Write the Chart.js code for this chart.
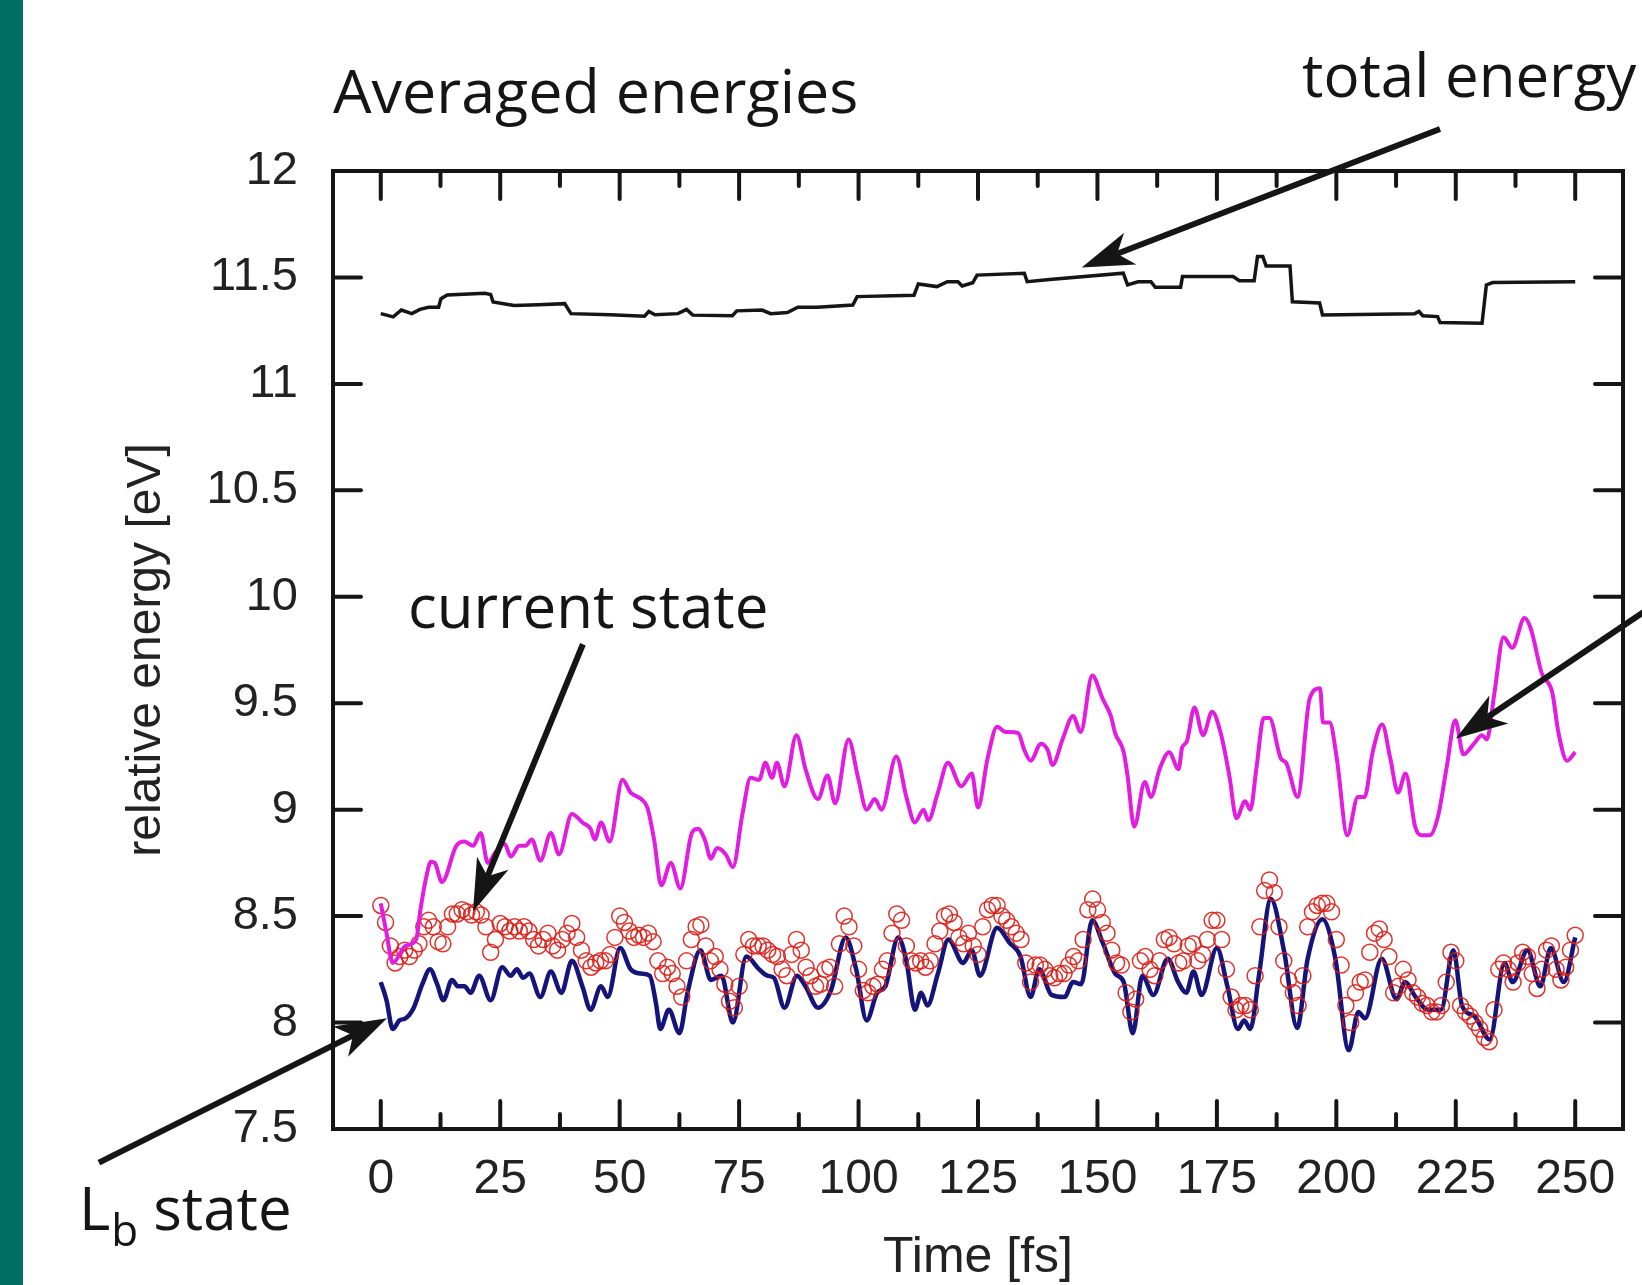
<!DOCTYPE html>
<html>
<head>
<meta charset="utf-8">
<title>Averaged energies</title>
<script src="https://cdn.jsdelivr.net/npm/chart.js@4.4.1/dist/chart.umd.min.js"></script>
<style>
	html, body { margin: 0; padding: 0; background: #fff; }
	#wrap { position: relative; width: 1642px; height: 1285px; overflow: hidden; }
	#bar { position: absolute; left: 0; top: 0; width: 23px; height: 100%; background: #006e64; }
	#chart { position: absolute; left: 0; top: 0; }
</style>
</head>
<body>
<div id="wrap">
	<div id="bar"></div>
	<canvas id="chart" width="1642" height="1285"></canvas>
</div>
<script>
(() => {
	'use strict'

	// Tick labels
	const xTickLabels = ['0', '25', '50', '75', '100', '125', '150', '175', '200', '225', '250'];
	const yTickLabels = ['7.5', '8', '8.5', '9', '9.5', '10', '10.5', '11', '11.5', '12'];

	// Total energy (black, stepwise)
	const totalTime = [0, 2.6, 4.3, 6.5, 8.2, 10, 12.1, 12.6, 13.9, 21.8, 23.0, 23.5, 27.9, 33, 38.5, 39.8, 48, 55.2, 56.1, 57.4,
		62.2, 64, 65.3, 73.6, 74.5, 79.8, 81.6, 85.1, 87.3, 91.3, 98.8, 99.7, 111.6, 112.5, 116.4, 118.6, 120.8, 121.7, 123.9, 124.8,
		134.7, 135.3, 140, 155.4, 156.3, 158.5, 161.2, 162.1, 167.4, 167.8, 178.4, 179.7, 182.8, 183.5, 184.6, 185.3, 190.3, 190.8, 196.5, 197.1,
		216.4, 217.3, 218.1, 221.2, 221.7, 230.5, 231.4, 232.7, 250];
	const totalEnergy = [11.33, 11.315, 11.347, 11.33, 11.35, 11.36, 11.36, 11.40, 11.418, 11.426, 11.42, 11.385, 11.368, 11.372, 11.377, 11.33, 11.325, 11.318, 11.34, 11.325,
		11.33, 11.35, 11.323, 11.32, 11.343, 11.347, 11.33, 11.335, 11.36, 11.36, 11.37, 11.41, 11.416, 11.469, 11.457, 11.48, 11.48, 11.46, 11.475, 11.511,
		11.52, 11.48, 11.49, 11.52, 11.465, 11.48, 11.48, 11.454, 11.454, 11.504, 11.504, 11.485, 11.485, 11.598, 11.598, 11.554, 11.554, 11.386, 11.38, 11.324,
		11.33, 11.34, 11.32, 11.316, 11.288, 11.285, 11.465, 11.476, 11.48];

	// Upper state (magenta)
	const upperTime = [0, 1.2, 2.5, 5.2, 7.4, 8.3, 9.4, 10.5, 11.3, 12.8, 15.8, 17.5, 19.3, 20.9, 22.4, 24, 25.9, 27.2, 29, 30.3,
		31.6, 33.4, 35.6, 37.3, 40, 42.2, 43.9, 44.8, 46.1, 47.9, 50.6, 52.3, 54.5, 55.8, 57.2, 58.7, 60.7, 62.7, 65.1, 66.4,
		67.8, 69.1, 70.4, 72.2, 73.7, 75.7, 77.4, 79.2, 80.5, 81.9, 82.9, 84.5, 87, 88.9, 91.5, 93.5, 95.1, 97.9, 99.9, 101.7,
		103.4, 104.8, 107.9, 110, 111.8, 113.6, 114.6, 116.6, 118.7, 121.5, 123.7, 125, 127, 129, 130.7, 133.4, 134.7, 136, 138.2, 139.6,
		140.6, 142.7, 144.9, 146.5, 148.9, 151.1, 152.8, 153.7, 155.5, 156.3, 157.7, 159.9, 161.2, 163, 165, 167, 167.7, 168.7, 170.3, 172.1,
		174, 175.8, 177.6, 179.1, 180.9, 182, 183.3, 184.8, 186, 188.4, 189.5, 191.9, 194.4, 196.6, 197.2, 198.6, 200.1, 202.3, 204.5, 205.9,
		207.6, 209.6, 211.3, 212.9, 214.5, 216.5, 217.8, 219.6, 221.3, 223.1, 224.9, 226.6, 228.8, 230.5, 231.5, 233.1, 235, 236.8, 239.4, 240.7,
		243, 245.2, 246.5, 248.3, 250];
	const upperEnergy = [8.56, 8.42, 8.28, 8.36, 8.39, 8.53, 8.67, 8.755, 8.75, 8.66, 8.83, 8.85, 8.83, 8.89, 8.75, 8.8, 8.84, 8.78, 8.83, 8.83,
		8.86, 8.76, 8.89, 8.79, 8.98, 8.94, 8.91, 8.86, 8.94, 8.85, 9.14, 9.08, 9.05, 9.01, 8.86, 8.645, 8.75, 8.63, 8.89, 8.91,
		8.86, 8.77, 8.82, 8.79, 8.73, 8.98, 9.15, 9.14, 9.22, 9.15, 9.22, 9.11, 9.35, 9.19, 9.05, 9.16, 9.03, 9.33, 9.15, 9.0,
		9.05, 9.0, 9.25, 9.06, 8.94, 9.0, 8.95, 9.08, 9.22, 9.11, 9.17, 9.01, 9.24, 9.39, 9.365, 9.36, 9.28, 9.23, 9.31, 9.28,
		9.21, 9.33, 9.44, 9.365, 9.63, 9.52, 9.44, 9.36, 9.27, 9.16, 8.92, 9.13, 9.06, 9.19, 9.27, 9.19, 9.29, 9.32, 9.48, 9.35,
		9.46, 9.36, 9.16, 8.96, 9.04, 9.0, 9.2, 9.43, 9.43, 9.24, 9.22, 9.06, 9.52, 9.57, 9.41, 9.41, 9.24, 8.88, 9.06, 9.06,
		9.27, 9.4, 9.24, 9.08, 9.17, 8.92, 8.88, 8.88, 8.97, 9.2, 9.42, 9.26, 9.31, 9.35, 9.33, 9.55, 9.81, 9.76, 9.9, 9.85,
		9.64, 9.55, 9.36, 9.23, 9.27];

	// Current state (red circles), one value per fs from 0 to 250
	const currentEnergy = [
		8.55, 8.47, 8.36, 8.28, 8.31, 8.34, 8.31, 8.34, 8.37, 8.45,
		8.48, 8.45, 8.38, 8.37, 8.45, 8.51, 8.51, 8.53, 8.52, 8.505,
		8.52, 8.505, 8.45, 8.33, 8.39, 8.465, 8.45, 8.43, 8.45, 8.43,
		8.45, 8.43, 8.39, 8.36, 8.39, 8.42, 8.36, 8.34, 8.39, 8.42,
		8.465, 8.40, 8.34, 8.29, 8.26, 8.28, 8.29, 8.29, 8.32, 8.40,
		8.50, 8.47, 8.43, 8.40, 8.41, 8.40, 8.42, 8.38, 8.29, 8.23,
		8.26, 8.23, 8.17, 8.12, 8.29, 8.39, 8.45, 8.46, 8.36, 8.29,
		8.31, 8.25, 8.18, 8.10, 8.07, 8.17, 8.32, 8.39, 8.36, 8.36,
		8.36, 8.34, 8.32, 8.31, 8.25, 8.22, 8.32, 8.39, 8.34, 8.26,
		8.22, 8.17, 8.18, 8.25, 8.26, 8.17, 8.37, 8.50, 8.45, 8.36,
		8.25, 8.15, 8.14, 8.17, 8.18, 8.25, 8.29, 8.42, 8.51, 8.48,
		8.36, 8.29, 8.28, 8.29, 8.26, 8.29, 8.37, 8.43, 8.50, 8.51,
		8.47, 8.40, 8.37, 8.42, 8.36, 8.32, 8.45, 8.53, 8.55, 8.55,
		8.50, 8.48, 8.45, 8.42, 8.39, 8.28, 8.19, 8.27, 8.27, 8.25,
		8.22, 8.21, 8.23, 8.23, 8.27, 8.31, 8.29, 8.39, 8.53, 8.58,
		8.53, 8.47, 8.42, 8.34, 8.28, 8.27, 8.14, 8.05, 8.11, 8.29,
		8.31, 8.25, 8.22, 8.29, 8.39, 8.40, 8.37, 8.28, 8.29, 8.36,
		8.37, 8.29, 8.32, 8.39, 8.48, 8.48, 8.39, 8.25, 8.12, 8.06,
		8.08, 8.08, 8.06, 8.22, 8.45, 8.62, 8.67, 8.61, 8.45, 8.29,
		8.20, 8.14, 8.08, 8.22, 8.45, 8.52, 8.55, 8.56, 8.56, 8.52,
		8.39, 8.27, 8.08, 8.00, 8.14, 8.19, 8.20, 8.33, 8.42, 8.44,
		8.39, 8.31, 8.14, 8.17, 8.25, 8.20, 8.14, 8.12, 8.09, 8.08,
		8.05, 8.05, 8.08, 8.19, 8.33, 8.29, 8.08, 8.05, 8.03, 8.00,
		7.97, 7.93, 7.91, 8.06, 8.25, 8.28, 8.25, 8.19, 8.28, 8.33,
		8.31, 8.23, 8.16, 8.25, 8.34, 8.36, 8.25, 8.20, 8.26, 8.34,
		8.41];
	const currentTime = currentEnergy.map((_, i) => i);

	// Lb state (navy)
	const lbTime = [0, 1.2, 2.5, 3.9, 5.2, 6.9, 8.7, 10.3, 11.8, 13.1, 14.9, 16.2, 17.5, 18.8, 20.6, 23, 25.4, 27.2, 28.5, 29.8,
		31.1, 33.4, 35.6, 37.8, 40, 42.2, 43.9, 46.1, 47.5, 50.1, 52.3, 54.5, 56.3, 57.6, 58.5, 60.3, 62.5, 64.2, 66.9, 69.1,
		71.3, 73.7, 76.5, 79.2, 80.9, 82.3, 84.5, 87.1, 88.9, 91.5, 94.2, 97.3, 99.5, 101.7, 103.9, 105.6, 108.3, 110, 111.8, 113.1,
		114.4, 116.6, 118.8, 121.9, 123.7, 125.4, 129, 131.6, 133.9, 136, 137.8, 140.4, 143.1, 144.9, 146.6, 148.9, 151.1, 153.7, 155.5, 157.4,
		159.4, 161.7, 164.7, 166.9, 168.6, 170.1, 171.8, 175, 177.2, 179.4, 180.7, 182, 183.8, 186.3, 189.1, 191.8, 194, 197.1, 199.8, 202.6,
		204.6, 206, 209.5, 212.6, 214.4, 216.6, 219.2, 221.9, 224.5, 226.3, 228.9, 232.1, 235.2, 236.9, 240, 242.7, 244.9, 247.6, 250];
	const lbEnergy = [8.19, 8.105, 7.97, 8.01, 8.02, 8.07, 8.18, 8.25, 8.18, 8.105, 8.2, 8.17, 8.17, 8.14, 8.22, 8.105, 8.26, 8.22, 8.25, 8.21,
		8.23, 8.12, 8.24, 8.14, 8.29, 8.17, 8.06, 8.17, 8.12, 8.35, 8.25, 8.23, 8.22, 8.09, 7.97, 8.06, 7.95, 8.14, 8.34, 8.2,
		8.22, 8.0, 8.31, 8.25, 8.22, 8.21, 8.07, 8.22, 8.17, 8.07, 8.15, 8.4, 8.25, 8.01, 8.14, 8.17, 8.4, 8.29, 8.06, 8.14,
		8.08, 8.23, 8.39, 8.28, 8.34, 8.22, 8.445, 8.375, 8.31, 8.12, 8.25, 8.13, 8.12, 8.19, 8.18, 8.48, 8.375, 8.23, 8.19, 7.95,
		8.22, 8.13, 8.3, 8.19, 8.14, 8.24, 8.13, 8.35, 8.17, 7.97, 8.01, 7.97, 8.22, 8.58, 8.33, 7.975, 8.3, 8.485, 8.3, 7.87,
		8.05, 8.02, 8.3, 8.11, 8.19, 8.12, 8.06, 8.06, 8.34, 8.08, 8.03, 7.92, 8.28, 8.19, 8.34, 8.17, 8.35, 8.19, 8.4];

	// Annotation arrows, tail -> tip in data units (fs, eV)
	const arrows = [
		[221.7, 12.197, 146.7, 11.547],
		[271, 10.03, 225, 9.334],
		[42.3, 9.777, 19.3, 8.522],
		[-59, 7.342, 1.3, 8.02]
	];

	const ink = '#151515';
	const textFont = '"Open Sans", "Noto Sans", sans-serif';
	const axisFont = '"Liberation Sans", Arial, sans-serif';

	const toPoints = (xs, ys) => xs.map((x, i) => ({x: x, y: ys[i]}));

	function drawArrow(ctx, x0, y0, x1, y1) {
		const ang = Math.atan2(y1 - y0, x1 - x0);
		const c = Math.cos(ang), s = Math.sin(ang);
		const headLen = 52, headW = 17, notch = 14;
		const bx = x1 - c * (headLen - notch), by = y1 - s * (headLen - notch);
		const hx = x1 - c * headLen, hy = y1 - s * headLen;
		ctx.lineWidth = 6;
		ctx.lineCap = 'butt';
		ctx.beginPath();
		ctx.moveTo(x0, y0);
		ctx.lineTo(bx, by);
		ctx.stroke();
		ctx.beginPath();
		ctx.moveTo(x1, y1);
		ctx.lineTo(hx - s * headW, hy + c * headW);
		ctx.lineTo(bx, by);
		ctx.lineTo(hx + s * headW, hy - c * headW);
		ctx.closePath();
		ctx.fill();
	}

	// Frame with inward ticks, arrows and labels
	const decorPlugin = {
		id: 'decor',
		afterDraw(chart) {
			const {ctx, chartArea: a, scales: {x, y}} = chart;
			ctx.save();
			ctx.strokeStyle = ink;
			ctx.fillStyle = ink;
			ctx.lineWidth = 4;
			ctx.lineCap = 'round';
			const seg = (x0, y0, x1, y1) => { ctx.beginPath(); ctx.moveTo(x0, y0); ctx.lineTo(x1, y1); ctx.stroke(); };
			x.ticks.forEach(t => {
				if (t.value < 0 || t.value > 250) return;
				const px = x.getPixelForValue(t.value);
				const len = t.value % 25 === 0 ? 28 : 15;
				seg(px, a.bottom, px, a.bottom - len);
				seg(px, a.top, px, a.top + len);
			});
			y.ticks.forEach(t => {
				if (t.value <= 7.5 || t.value >= 12) return;
				const py = y.getPixelForValue(t.value);
				seg(a.left, py, a.left + 28, py);
				seg(a.right, py, a.right - 28, py);
			});
			ctx.lineCap = 'square';
			ctx.strokeRect(a.left, a.top, a.right - a.left, a.bottom - a.top);

			arrows.forEach(([t0, e0, t1, e1]) => {
				drawArrow(ctx, x.getPixelForValue(t0), y.getPixelForValue(e0), x.getPixelForValue(t1), y.getPixelForValue(e1));
			});

			ctx.textBaseline = 'alphabetic';
			ctx.textAlign = 'left';
			ctx.font = '61px ' + textFont;
			ctx.fillText('Averaged energies', a.left, 113);
			ctx.font = '60px ' + textFont;
			ctx.fillText('total energy', 1302, 97);
			ctx.fillText('current state', 408, 628);
			ctx.fillText('L', 79, 1230);
			const lw = ctx.measureText('L').width;
			ctx.font = '44px ' + textFont;
			ctx.fillText('b', 79 + lw + 1, 1246);
			const bw = ctx.measureText('b').width;
			ctx.font = '60px ' + textFont;
			ctx.fillText('state', 79 + lw + bw + 16, 1230);
			ctx.restore();
		}
	};

	const config = {
		type: 'line',
		data: {
			datasets: [
				{
					label: 'total energy',
					data: toPoints(totalTime, totalEnergy),
					borderColor: ink,
					borderWidth: 3.5,
					pointRadius: 0,
					tension: 0
				},
				{
					label: 'upper state',
					data: toPoints(upperTime, upperEnergy),
					borderColor: '#e21ce0',
					borderWidth: 4,
					pointRadius: 0,
					cubicInterpolationMode: 'monotone'
				},
				{
					label: 'current state',
					data: toPoints(currentTime, currentEnergy),
					showLine: false,
					pointStyle: 'circle',
					pointRadius: 8,
					pointBorderWidth: 1.5,
					pointBorderColor: 'rgba(220, 30, 22, 0.9)',
					pointBackgroundColor: 'rgba(0, 0, 0, 0)'
				},
				{
					label: 'Lb state',
					data: toPoints(lbTime, lbEnergy),
					borderColor: '#14147a',
					borderWidth: 4.5,
					pointRadius: 0,
					cubicInterpolationMode: 'monotone'
				}
			]
		},
		options: {
			responsive: false,
			animation: false,
			events: [],
			layout: {
				padding: {left: 0, top: 171, right: 19, bottom: 0}
			},
			scales: {
				x: {
					type: 'linear',
					min: -10,
					max: 260,
					grid: {display: false, drawTicks: false},
					border: {display: false},
					ticks: {
						stepSize: 12.5,
						includeBounds: false,
						autoSkip: false,
						maxRotation: 0,
						padding: 22,
						color: '#222',
						font: {family: axisFont, size: 48},
						callback: (v) => xTickLabels.includes(String(v)) ? String(v) : ''
					},
					title: {
						display: true,
						text: 'Time [fs]',
						color: '#222',
						font: {family: axisFont, size: 50, lineHeight: 1},
						padding: {top: 0, bottom: 2}
					},
					afterFit(scale) { scale.height = 156; }
				},
				y: {
					min: 7.5,
					max: 12,
					grid: {display: false, drawTicks: false},
					border: {display: false},
					ticks: {
						stepSize: 0.5,
						padding: 35,
						color: '#222',
						font: {family: axisFont, size: 47},
						callback: (v) => yTickLabels.includes(String(v)) ? String(v) : ''
					},
					title: {
						display: true,
						text: 'relative energy [eV]',
						color: '#222',
						font: {family: axisFont, size: 48, lineHeight: 1},
						padding: {top: 123, bottom: 0}
					},
					afterFit(scale) { scale.width = 333; }
				}
			},
			plugins: {
				legend: {display: false},
				title: {display: false},
				tooltip: {enabled: false}
			}
		},
		plugins: [decorPlugin]
	};

	new Chart(document.getElementById('chart'), config);
})()
</script>
</body>
</html>
